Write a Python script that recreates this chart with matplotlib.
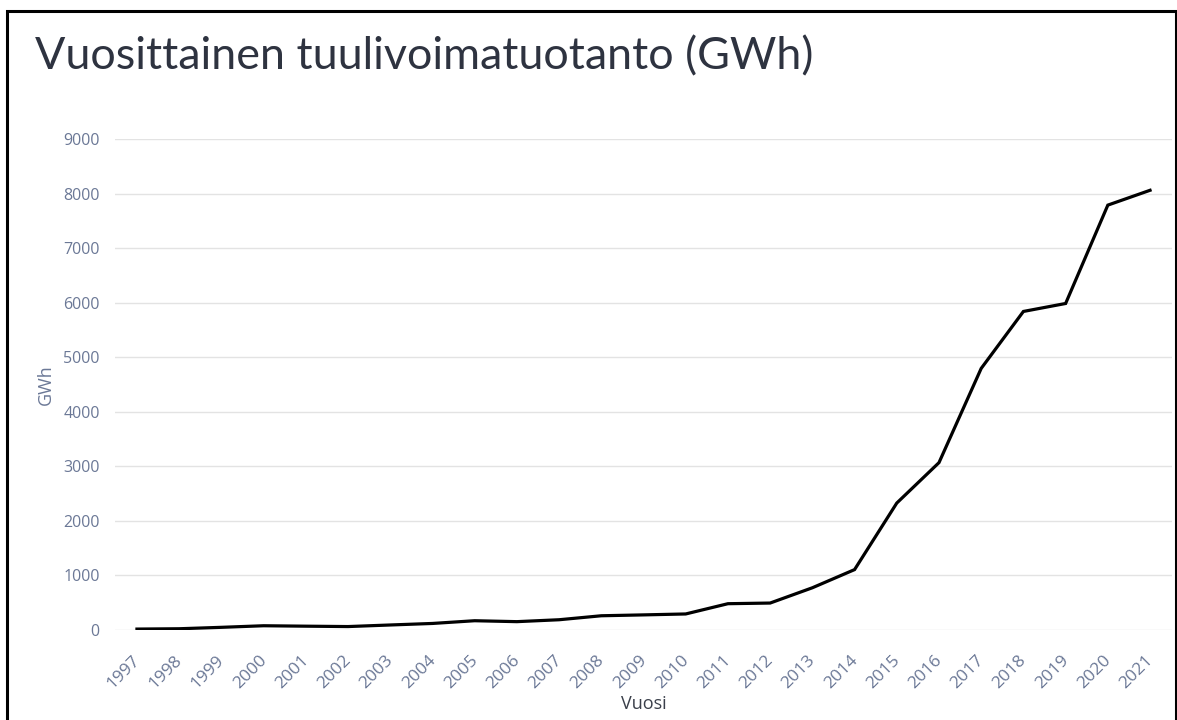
import matplotlib
matplotlib.use("Agg")
import matplotlib.pyplot as plt
import matplotlib.transforms as mtransforms
from matplotlib.patches import Rectangle

years = ["1997", "1998", "1999", "2000", "2001", "2002", "2003", "2004", "2005",
         "2006", "2007", "2008", "2009", "2010", "2011", "2012", "2013", "2014",
         "2015", "2016", "2017", "2018", "2019", "2020", "2021"]
gwh = [17, 23, 49, 78, 70, 63, 92, 120, 170, 153, 188, 261, 277, 294, 482, 494,
       774, 1107, 2327, 3068, 4795, 5839, 5985, 7788, 8060]
yticks = [0, 1000, 2000, 3000, 4000, 5000, 6000, 7000, 8000, 9000]

title = "Vuosittainen tuulivoimatuotanto (GWh)"
xlabel = "Vuosi"
ylabel = "GWh"

W, H = 1177, 720
fig = plt.figure(figsize=(W / 100, H / 100), dpi=100)
fig.patch.set_facecolor("white")

left_px, right_px, top_px, bottom_px = 115, 1172, 139, 630
ax = fig.add_axes([left_px / W, 1 - bottom_px / H, (right_px - left_px) / W,
                   (bottom_px - top_px) / H])

x = list(range(len(years)))
ax.plot(x, gwh, color="black", lw=2.3, solid_joinstyle="miter", zorder=3)
ax.set_xlim(-0.52, len(years) - 1 + 0.52)
ax.set_ylim(0, 9000)
ax.set_yticks(yticks)
ax.set_yticklabels([str(v) for v in yticks])
ax.set_xticks(x)
ax.set_xticklabels(years, rotation=45, ha="right", rotation_mode="anchor")

tick_color = "#6b7896"
ax.tick_params(axis="both", length=0, colors=tick_color)
ax.tick_params(axis="y", pad=11, labelsize=11.5)
ax.tick_params(axis="x", pad=16, labelsize=12.5)
shift = mtransforms.ScaledTranslation(-5 / 100, 0, fig.dpi_scale_trans)
for lbl in ax.get_xticklabels():
    lbl.set_fontfamily("Open Sans")
    lbl.set_transform(lbl.get_transform() + shift)
for lbl in ax.get_yticklabels():
    lbl.set_fontfamily("Open Sans")
ax.grid(axis="y", color="#e3e3e3", lw=1)
ax.set_axisbelow(True)
for s in ax.spines.values():
    s.set_visible(False)

ax.set_xlabel(xlabel, color="#3a3f4a", fontsize=13, family="Open Sans", labelpad=2)
ax.set_ylabel(ylabel, color=tick_color, fontsize=13, family="Open Sans", labelpad=6)

fig.text(35 / W, 1 - 69 / H, title, fontsize=32.3, family="Lato", weight="normal",
         color="#2e3340", ha="left", va="baseline")

fig.patches.append(Rectangle((7 / W, -0.05), (1176 - 7) / W, 1.05 - 11 / H,
                             transform=fig.transFigure, fill=False, edgecolor="black",
                             lw=2.2))

fig.savefig("out.png", dpi=100, facecolor="white")
